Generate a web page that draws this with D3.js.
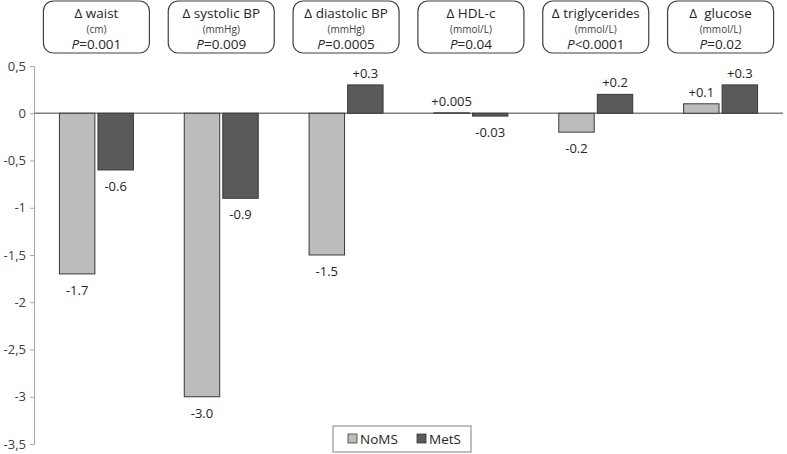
<!DOCTYPE html>
<html><head><meta charset="utf-8">
<script src="https://cdn.jsdelivr.net/npm/d3@7"></script>
<style>body{margin:0;background:#fff}svg{display:block;font-family:"Open Sans",sans-serif}</style>
</head><body><svg id="c" width="787" height="454"></svg>
<script>
const categories = ["Δ waist","Δ systolic BP","Δ diastolic BP","Δ HDL-c","Δ triglycerides","Δ  glucose"];
const units = ["(cm)","(mmHg)","(mmHg)","(mmol/L)","(mmol/L)","(mmol/L)"];
const pOps = ["=0.001","=0.009","=0.0005","=0.04","<0.0001","=0.02"];
const series = ["NoMS","MetS"];
const noMS = [-1.7,-3.0,-1.5,0.005,-0.2,0.1];
const metS = [-0.6,-0.9,0.3,-0.03,0.2,0.3];
const noMSLabels = ["-1.7","-3.0","-1.5","+0.005","-0.2","+0.1"];
const metSLabels = ["-0.6","-0.9","+0.3","-0.03","+0.2","+0.3"];
const yTicks = [0.5,0,-0.5,-1,-1.5,-2,-2.5,-3,-3.5];
const colors = ["#bcbcbc","#5a5a5a"];

const svg = d3.select("#c");
const x0 = d3.scaleBand().domain(categories).range([34,783]);
const x1 = d3.scaleBand().domain(series).range([0,x0.bandwidth()]).paddingInner(0.08).paddingOuter(0.66);
const y = d3.scaleLinear().domain([-3.5,0.5]).range([444,66]);
const fmt = v => String(v).replace(".",",");

// y axis
const ax = svg.append("g").attr("transform","translate(34,0)")
  .call(d3.axisLeft(y).tickValues(yTicks).tickFormat(fmt).tickSize(4).tickPadding(4));
ax.select(".domain").attr("stroke","#a6a6a6");
ax.selectAll(".tick line").attr("stroke","#a6a6a6");
ax.selectAll(".tick text").attr("font-size",13).attr("fill","#404040").attr("font-family","Open Sans");

// zero line
svg.append("line").attr("x1",34).attr("x2",783).attr("y1",y(0)).attr("y2",y(0))
  .attr("stroke","#808080").attr("stroke-width",1.5);

const data = categories.map((c,i)=>({c,vals:[{s:"NoMS",v:noMS[i],l:noMSLabels[i]},{s:"MetS",v:metS[i],l:metSLabels[i]}]}));
const g = svg.selectAll("g.grp").data(data).join("g").attr("class","grp")
  .attr("transform",d=>`translate(${x0(d.c)},0)`);
g.selectAll("rect").data(d=>d.vals).join("rect")
  .attr("x",d=>x1(d.s)).attr("width",x1.bandwidth())
  .attr("y",d=>y(Math.max(0,d.v))).attr("height",d=>Math.abs(y(d.v)-y(0)))
  .attr("fill",(d,i)=>colors[i]).attr("stroke","#3a3a3a").attr("stroke-width",1);
g.selectAll("text.val").data(d=>d.vals).join("text").attr("class","val")
  .attr("x",d=>x1(d.s)+x1.bandwidth()/2)
  .attr("y",d=>d.v>=0? y(d.v)-7 : y(d.v)+21)
  .attr("text-anchor","middle").attr("font-size",13).attr("fill","#262626").text(d=>d.l);

// header boxes
const hb = svg.selectAll("g.hdr").data(categories).join("g").attr("class","hdr")
  .attr("transform",d=>`translate(${x0(d)+x0.bandwidth()/2},0)`);
hb.append("rect").attr("x",-53).attr("y",1).attr("width",106).attr("height",52).attr("rx",10)
  .attr("fill","#fff").attr("stroke","#404040").attr("stroke-width",1.2);
hb.append("text").attr("y",18).attr("text-anchor","middle").attr("font-size",13.5).attr("fill","#262626")
  .attr("xml:space","preserve").style("white-space","pre").text(d=>d);
hb.append("text").attr("y",33).attr("text-anchor","middle").attr("font-size",10).attr("fill","#404040").text((d,i)=>units[i]);
hb.append("text").attr("y",49).attr("text-anchor","middle").attr("font-size",13.5).attr("fill","#262626")
  .each(function(d,i){const t=d3.select(this);t.append("tspan").attr("font-style","italic").text("P");t.append("tspan").text(pOps[i]);});

// legend
const lg = svg.append("g");
lg.append("rect").attr("x",333).attr("y",426).attr("width",138).attr("height",26).attr("fill","#fff").attr("stroke","#808080");
series.forEach((s,i)=>{
  const lx = 348 + i*69;
  lg.append("rect").attr("x",lx).attr("y",434).attr("width",9).attr("height",9).attr("fill",colors[i]).attr("stroke","#3a3a3a").attr("stroke-width",0.8);
  lg.append("text").attr("x",lx+12).attr("y",443.5).attr("font-size",13.5).attr("fill","#262626").text(s);
});
</script></body></html>
